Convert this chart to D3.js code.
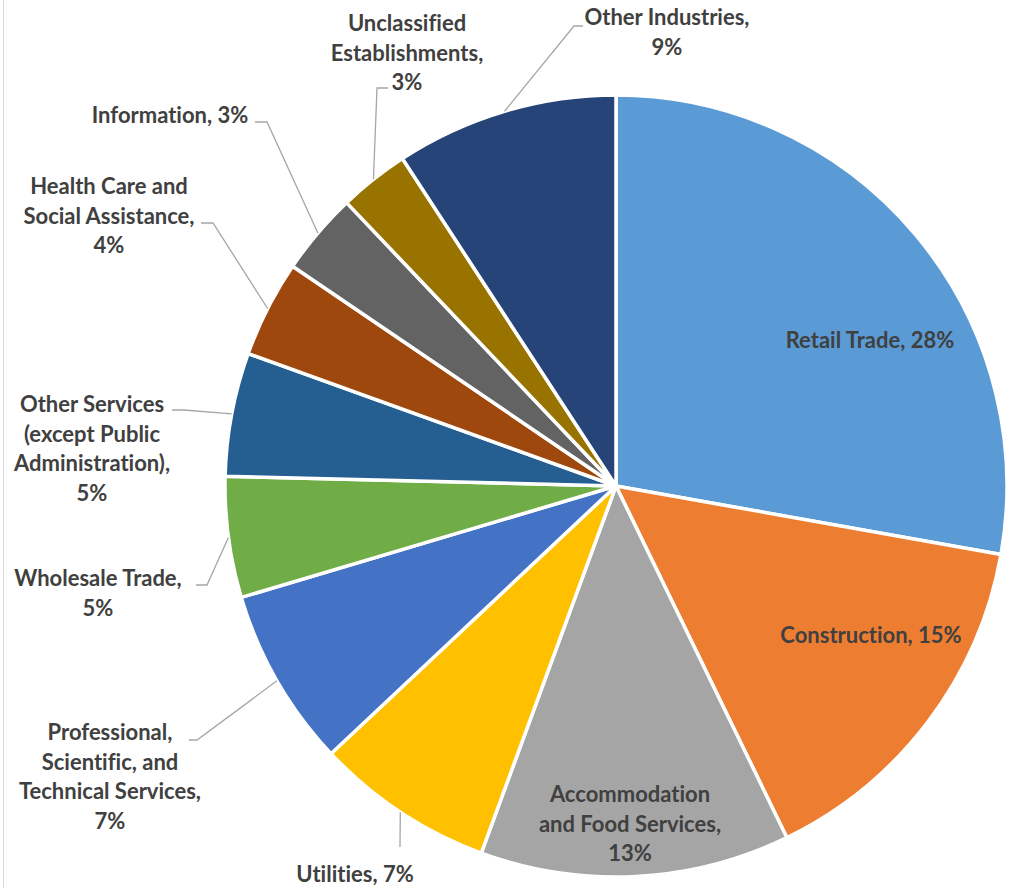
<!DOCTYPE html>
<html>
<head>
<meta charset="utf-8">
<script src="https://cdn.jsdelivr.net/npm/d3@7"></script>
<style>
  html, body { margin: 0; padding: 0; background: #ffffff; }
  svg { display: block; }
  .lbl { font-family: Lato, "Open Sans", sans-serif; font-weight: 700; fill: #404040;
         font-variant-ligatures: none; font-feature-settings: "liga" 0; }
</style>
</head>
<body>
<svg id="chart" width="1010" height="888"></svg>
<script>
// Business establishments by industry (share of total, %)
const categories = [
  "Retail Trade",
  "Construction",
  "Accommodation and Food Services",
  "Utilities",
  "Professional, Scientific, and Technical Services",
  "Wholesale Trade",
  "Other Services (except Public Administration)",
  "Health Care and Social Assistance",
  "Information",
  "Unclassified Establishments",
  "Other Industries"
];
const shares = [27.8, 15.0, 12.8, 7.4, 7.4, 5.0, 5.1, 4.0, 3.4, 2.9, 9.2];
const colors = [
  "#5B9BD5", "#ED7D31", "#A5A5A5", "#FFC000", "#4472C4", "#70AD47",
  "#255E91", "#9E480E", "#636363", "#997300", "#264478"
];
// How each label's name is wrapped onto lines
const labelLines = [
  ["Retail Trade,"],
  ["Construction,"],
  ["Accommodation", "and Food Services,"],
  ["Utilities,"],
  ["Professional,", "Scientific, and", "Technical Services,"],
  ["Wholesale Trade,"],
  ["Other Services", "(except Public", "Administration),"],
  ["Health Care and", "Social Assistance,"],
  ["Information,"],
  ["Unclassified", "Establishments,"],
  ["Other Industries,"]
];

// ---- layout ----
const W = 1010, H = 888;
const cx = 616, cy = 486, R = 391;
const fontSize = 22, lineH = 29.5;
// label placement: centre x, first baseline y, whether the value stays on the same line,
// and the leader line's elbow / end points (null for labels drawn inside the slice)
const labelLayout = [
  { x: 870, y: 348, inline: true,  leader: null },
  { x: 871, y: 643, inline: true,  leader: null },
  { x: 630, y: 802, inline: false, leader: null },
  { x: 355, y: 882, inline: true,  leader: [[400, 847]] },
  { x: 110, y: 740, inline: false, leader: [[197, 740], [189, 740]] },
  { x: 98,  y: 586, inline: false, leader: [[207, 585], [196, 585]] },
  { x: 92,  y: 412, inline: false, leader: [[184, 410], [172, 410]] },
  { x: 109, y: 194, inline: false, leader: [[213, 223], [201, 223]] },
  { x: 170, y: 123, inline: true,  leader: [[267, 122], [255, 122]] },
  { x: 407, y: 31,  inline: false, leader: [[377, 88], [388, 88]] },
  { x: 667, y: 25,  inline: false, leader: [[574, 26], [583, 26]] }
];

const svg = d3.select("#chart");

// thin frame edge on the left
svg.append("line")
  .attr("x1", 3.5).attr("x2", 3.5).attr("y1", 0).attr("y2", H)
  .attr("stroke", "#d9d9d9").attr("stroke-width", 1);

const data = categories.map((c, i) => ({ name: c, value: shares[i], i }));
const total = d3.sum(shares);

const pie = d3.pie().value(d => d.value).sort(null);
const arcs = pie(data);
const arc = d3.arc().innerRadius(0).outerRadius(R);

const g = svg.append("g").attr("transform", `translate(${cx},${cy})`);

g.selectAll("path.slice")
  .data(arcs)
  .enter().append("path")
  .attr("class", "slice")
  .attr("d", arc)
  .attr("fill", d => colors[d.data.i])
  .attr("stroke", "#ffffff")
  .attr("stroke-width", 3.5)
  .attr("stroke-linejoin", "round");

// leader lines: start on the rim at each slice's mid angle
const leaders = svg.append("g");
arcs.forEach(a => {
  const L = labelLayout[a.data.i];
  if (!L.leader) return;
  const mid = (a.startAngle + a.endAngle) / 2;
  const p0 = [cx + R * Math.sin(mid), cy - R * Math.cos(mid)];
  const pts = [p0].concat(L.leader);
  leaders.append("path")
    .attr("d", d3.line()(pts))
    .attr("fill", "none")
    .attr("stroke", "#a6a6a6")
    .attr("stroke-width", 1.3);
});

// labels
const labels = svg.append("g");
arcs.forEach(a => {
  const i = a.data.i;
  const L = labelLayout[i];
  const pct = Math.round(a.data.value / total * 100) + "%";
  let lines = labelLines[i].slice();
  if (L.inline) lines[lines.length - 1] += " " + pct;
  else lines.push(pct);
  const t = labels.append("text")
    .attr("class", "lbl")
    .attr("text-anchor", "middle")
    .attr("font-size", fontSize);
  lines.forEach((ln, k) => {
    t.append("tspan").attr("x", L.x).attr("y", L.y + k * lineH).text(ln);
  });
});
</script>
</body>
</html>
